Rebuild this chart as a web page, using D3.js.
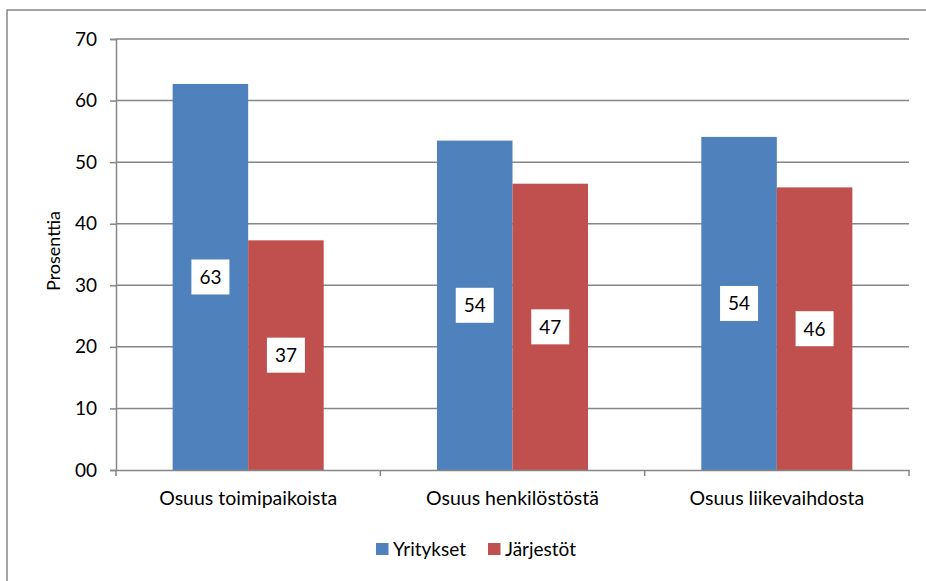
<!DOCTYPE html>
<html><head><meta charset="utf-8">
<script src="https://cdn.jsdelivr.net/npm/d3@7/dist/d3.min.js"></script>
<style>body{margin:0;background:#fff;} svg{display:block;font-family:Lato,"Liberation Sans",sans-serif;}</style>
</head><body>
<script>
const categories = ["Osuus toimipaikoista", "Osuus henkilöstöstä", "Osuus liikevaihdosta"];
const seriesNames = ["Yritykset", "Järjestöt"];
const yritykset = [62.7, 53.5, 54.1];
const jarjestot = [37.3, 46.5, 45.9];
const labelsY = [63, 54, 54];
const labelsJ = [37, 47, 46];
const yTicks = [0, 10, 20, 30, 40, 50, 60, 70];
const colors = ["#4F81BD", "#C0504D"];

const W = 926, H = 581;
const svg = d3.select("body").append("svg").attr("width", W).attr("height", H);
const grid = "#868686";
const FS = 19;

// outer border
svg.append("rect").attr("x", 7).attr("y", 10).attr("width", 940).attr("height", 600)
  .attr("fill", "none").attr("stroke", grid).attr("stroke-width", 1.5);

const L = 116, R = 909, T = 39, B = 470;
const x = d3.scaleBand().domain(categories).range([L, R]);
const xs = d3.scaleBand().domain(seriesNames).range([0, x.bandwidth()]).paddingInner(0).paddingOuter(0.75);
const y = d3.scaleLinear().domain([0, 70]).range([B, T]);

// gridlines
svg.append("g").selectAll("line").data(yTicks.filter(d => d > 0)).join("line")
  .attr("x1", L).attr("x2", R).attr("y1", d => y(d)).attr("y2", d => y(d))
  .attr("stroke", grid).attr("stroke-width", 1.5);

// bars
const data = categories.map((c, i) => ({c, vals: [yritykset[i], jarjestot[i]], labs: [labelsY[i], labelsJ[i]]}));
const g = svg.append("g").selectAll("g").data(data).join("g").attr("transform", d => `translate(${x(d.c)},0)`);
g.selectAll("rect").data(d => d.vals.map((v, k) => ({v, k, s: seriesNames[k]}))).join("rect")
  .attr("x", d => xs(d.s)).attr("width", xs.bandwidth())
  .attr("y", d => y(d.v)).attr("height", d => y(0) - y(d.v))
  .attr("fill", d => colors[d.k]);

// data labels
const lab = g.selectAll("g.lab").data(d => d.vals.map((v, k) => ({v, k, s: seriesNames[k], t: d.labs[k]}))).join("g")
  .attr("class", "lab")
  .attr("transform", d => `translate(${xs(d.s) + xs.bandwidth()/2},${(y(d.v) + y(0))/2})`);
lab.append("rect").attr("x", -19).attr("y", -17.5).attr("width", 38).attr("height", 35).attr("fill", "#fff");
lab.append("text").attr("text-anchor", "middle").attr("dy", "0.36em").attr("font-size", FS).attr("fill", "#000").text(d => d.t);

// y axis
const yAxis = svg.append("g").attr("transform", `translate(${L},0)`)
  .call(d3.axisLeft(y).tickValues(yTicks).tickFormat(d3.format("02d")).tickSize(6).tickPadding(13));
yAxis.select(".domain").attr("stroke", grid).attr("stroke-width", 1.5);
yAxis.selectAll(".tick line").attr("stroke", grid).attr("stroke-width", 1.5);
yAxis.selectAll(".tick text").attr("font-size", FS).attr("fill", "#000").attr("font-family", "Lato");

// x axis
const xAxis = svg.append("g").attr("transform", `translate(0,${B})`)
  .call(d3.axisBottom(x).tickSize(0).tickPadding(21));
xAxis.select(".domain").attr("stroke", grid).attr("stroke-width", 1.5);
xAxis.selectAll(".tick text").attr("font-size", 19.5).attr("fill", "#000").attr("font-family", "Lato");
svg.append("g").selectAll("line").data(d3.range(categories.length + 1)).join("line")
  .attr("x1", i => L + i * x.step()).attr("x2", i => L + i * x.step())
  .attr("y1", B).attr("y2", B + 6).attr("stroke", grid).attr("stroke-width", 1.5);

// y title
svg.append("text").attr("transform", `translate(54,251) rotate(-90)`).attr("text-anchor", "middle")
  .attr("dy", "0.36em").attr("font-size", 18).attr("fill", "#000").text("Prosenttia");

// legend
const leg = svg.append("g").attr("transform", "translate(376,543)");
const li = leg.selectAll("g").data(seriesNames).join("g").attr("transform", (d, i) => `translate(${i * 112},0)`);
li.append("rect").attr("width", 12.5).attr("height", 12).attr("fill", (d, i) => colors[i]);
li.append("text").attr("x", 17).attr("y", 6).attr("dy", "0.36em").attr("font-size", FS).attr("fill", "#000").text(d => d);
</script>
</body></html>
